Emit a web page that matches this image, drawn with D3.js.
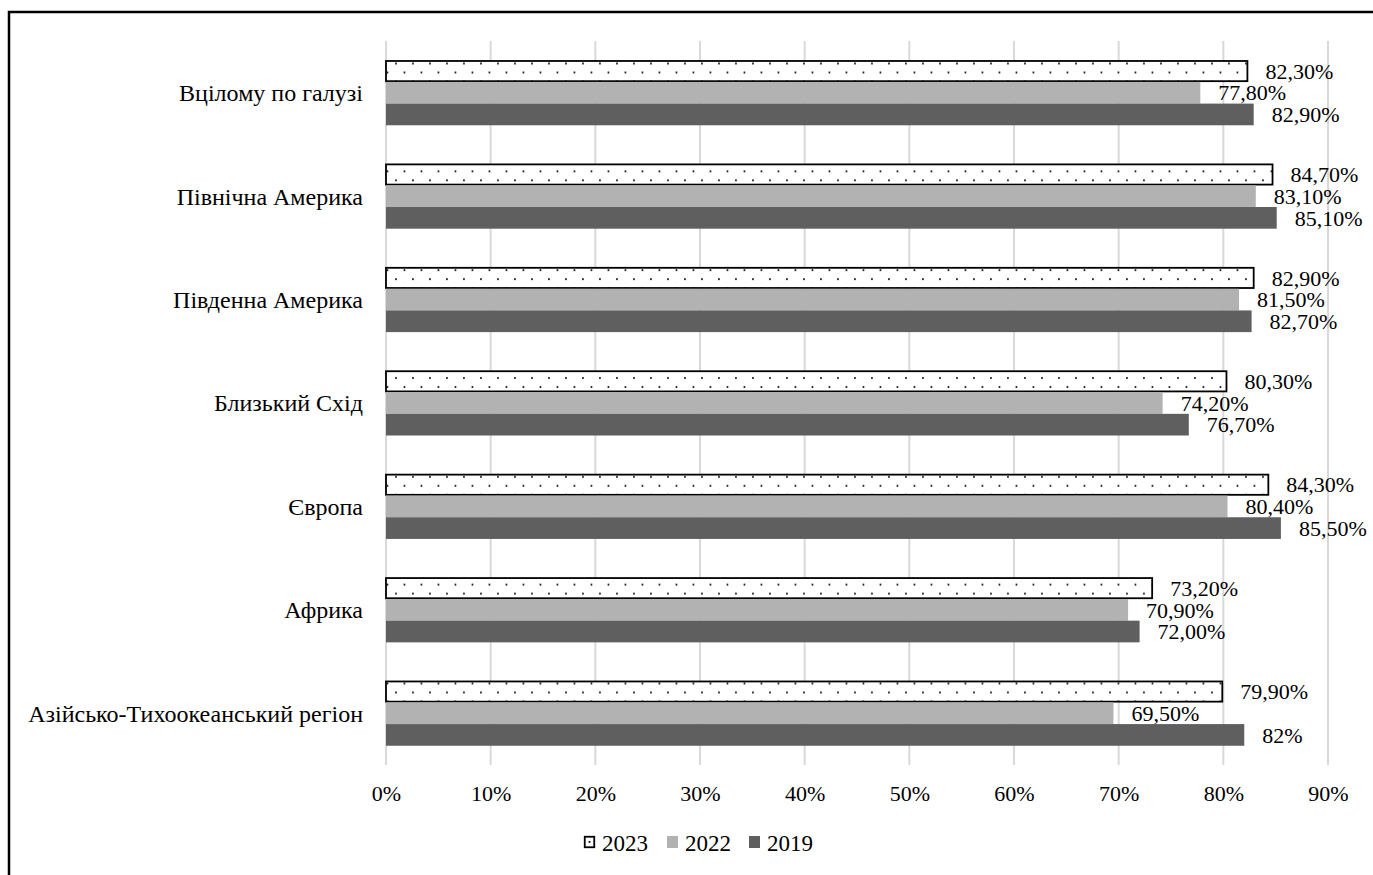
<!DOCTYPE html>
<html>
<head>
<meta charset="utf-8">
<script src="https://cdn.jsdelivr.net/npm/d3@7"></script>
<style>
  html, body { margin: 0; padding: 0; background: #fff; }
  svg { display: block; }
  text { font-family: "Liberation Serif", "Times New Roman", serif; fill: #000; }
</style>
</head>
<body>
<svg id="chart" width="1373" height="875"></svg>
<script>
// Regions (top to bottom) and share values (%) per year
const categories = [
  "Вцілому по галузі",
  "Північна Америка",
  "Південна Америка",
  "Близький Схід",
  "Європа",
  "Африка",
  "Азійсько-Тихоокеанський регіон"
];
const seriesNames = ["2023", "2022", "2019"];
const values2023 = [82.3, 84.7, 82.9, 80.3, 84.3, 73.2, 79.9];
const values2022 = [77.8, 83.1, 81.5, 74.2, 80.4, 70.9, 69.5];
const values2019 = [82.9, 85.1, 82.7, 76.7, 85.5, 72.0, 82.0];
const valueLabels2023 = ["82,30%", "84,70%", "82,90%", "80,30%", "84,30%", "73,20%", "79,90%"];
const valueLabels2022 = ["77,80%", "83,10%", "81,50%", "74,20%", "80,40%", "70,90%", "69,50%"];
const valueLabels2019 = ["82,90%", "85,10%", "82,70%", "76,70%", "85,50%", "72,00%", "82%"];
const xTicks = [0, 10, 20, 30, 40, 50, 60, 70, 80, 90];

const seriesValues = { "2023": values2023, "2022": values2022, "2019": values2019 };
const seriesLabels = { "2023": valueLabels2023, "2022": valueLabels2022, "2019": valueLabels2019 };
const seriesFill = { "2022": "#b2b2b2", "2019": "#5f5f5f" };

const svg = d3.select("#chart");
const defs = svg.append("defs");

// Outer frame
svg.append("rect")
  .attr("x", 9).attr("y", 12)
  .attr("width", 1500).attr("height", 1000)
  .attr("fill", "none").attr("stroke", "#000").attr("stroke-width", 2.5);

const x = d3.scaleLinear().domain([0, 90]).range([386, 1328]);
const y = d3.scaleBand().domain(categories).range([41, 765])
  .paddingInner(0.371).paddingOuter(0.186);
const ySub = d3.scaleBand().domain(seriesNames).range([0, y.bandwidth()]);

// Gridlines
svg.append("g").selectAll("line").data(xTicks).join("line")
  .attr("x1", d => x(d)).attr("x2", d => x(d))
  .attr("y1", 41).attr("y2", 765)
  .attr("stroke", "#d9d9d9").attr("stroke-width", 2);

// Tick labels
const xAxis = d3.axisBottom(x).tickValues(xTicks).tickSize(0).tickPadding(0)
  .tickFormat(d => d + "%");
const axisG = svg.append("g").attr("transform", "translate(0,783)").call(xAxis);
axisG.select(".domain").remove();
axisG.selectAll("text")
  .attr("font-family", "Liberation Serif, Times New Roman, serif")
  .attr("font-size", 22).attr("fill", "#000").attr("dy", "0.8em");

// Dotted fill for the 2023 bars, aligned to each bar's top edge
categories.forEach((c, i) => {
  const top = y(c) + ySub("2023");
  const p = defs.append("pattern")
    .attr("id", "dots" + i)
    .attr("patternUnits", "userSpaceOnUse")
    .attr("x", x(0)).attr("y", top)
    .attr("width", 17).attr("height", 18);
  p.append("rect").attr("width", 17).attr("height", 18).attr("fill", "#fff");
  p.append("rect").attr("x", 0.6).attr("y", 5.2).attr("width", 1.7).attr("height", 1.7).attr("fill", "#000");
  p.append("rect").attr("x", 9.1).attr("y", 14.2).attr("width", 1.7).attr("height", 1.7).attr("fill", "#000");
});
const legendPattern = defs.append("pattern")
  .attr("id", "dotsLegend").attr("patternUnits", "userSpaceOnUse")
  .attr("x", 584).attr("y", 836).attr("width", 11).attr("height", 12);
legendPattern.append("rect").attr("width", 11).attr("height", 12).attr("fill", "#fff");
legendPattern.append("rect").attr("x", 4.6).attr("y", 5).attr("width", 1.8).attr("height", 1.8).attr("fill", "#000");

// Bars and value labels
const groups = svg.append("g").selectAll("g").data(categories).join("g")
  .attr("transform", c => `translate(0,${y(c)})`);

seriesNames.forEach(s => {
  groups.append("rect")
    .attr("x", x(0))
    .attr("y", ySub(s) + (s === "2023" ? 0.75 : 0))
    .attr("width", (c, i) => x(seriesValues[s][i]) - x(0))
    .attr("height", ySub.bandwidth() - (s === "2023" ? 1.5 : 0))
    .attr("fill", (c, i) => s === "2023" ? `url(#dots${i})` : seriesFill[s])
    .attr("stroke", s === "2023" ? "#000" : "none")
    .attr("stroke-width", s === "2023" ? 1.8 : 0);
});

seriesNames.forEach(s => {
  groups.append("text")
    .attr("x", (c, i) => x(seriesValues[s][i]) + 18)
    .attr("y", ySub(s) + ySub.bandwidth() / 2)
    .attr("dy", "0.35em")
    .attr("font-size", 22)
    .text((c, i) => seriesLabels[s][i]);
});

// Category labels
groups.append("text")
  .attr("x", 363)
  .attr("y", y.bandwidth() / 2)
  .attr("dy", "0.35em")
  .attr("text-anchor", "end")
  .attr("font-size", 24)
  .text(c => c);

// Legend
const legendItems = [
  { name: "2023", mx: 584, fill: "url(#dotsLegend)", stroke: "#000" },
  { name: "2022", mx: 667, fill: seriesFill["2022"], stroke: "none" },
  { name: "2019", mx: 749, fill: seriesFill["2019"], stroke: "none" }
];
const lg = svg.append("g").selectAll("g").data(legendItems).join("g");
lg.append("rect")
  .attr("x", d => d.mx + (d.stroke === "none" ? 0 : 0.75))
  .attr("y", d => 836 + (d.stroke === "none" ? 0 : 0.75))
  .attr("width", d => d.stroke === "none" ? 11 : 9.5)
  .attr("height", d => d.stroke === "none" ? 12 : 10.5)
  .attr("fill", d => d.fill)
  .attr("stroke", d => d.stroke)
  .attr("stroke-width", 1.8);
lg.append("text")
  .attr("x", d => d.mx + 18)
  .attr("y", 851)
  .attr("font-size", 23)
  .text(d => d.name);
</script>
</body>
</html>
